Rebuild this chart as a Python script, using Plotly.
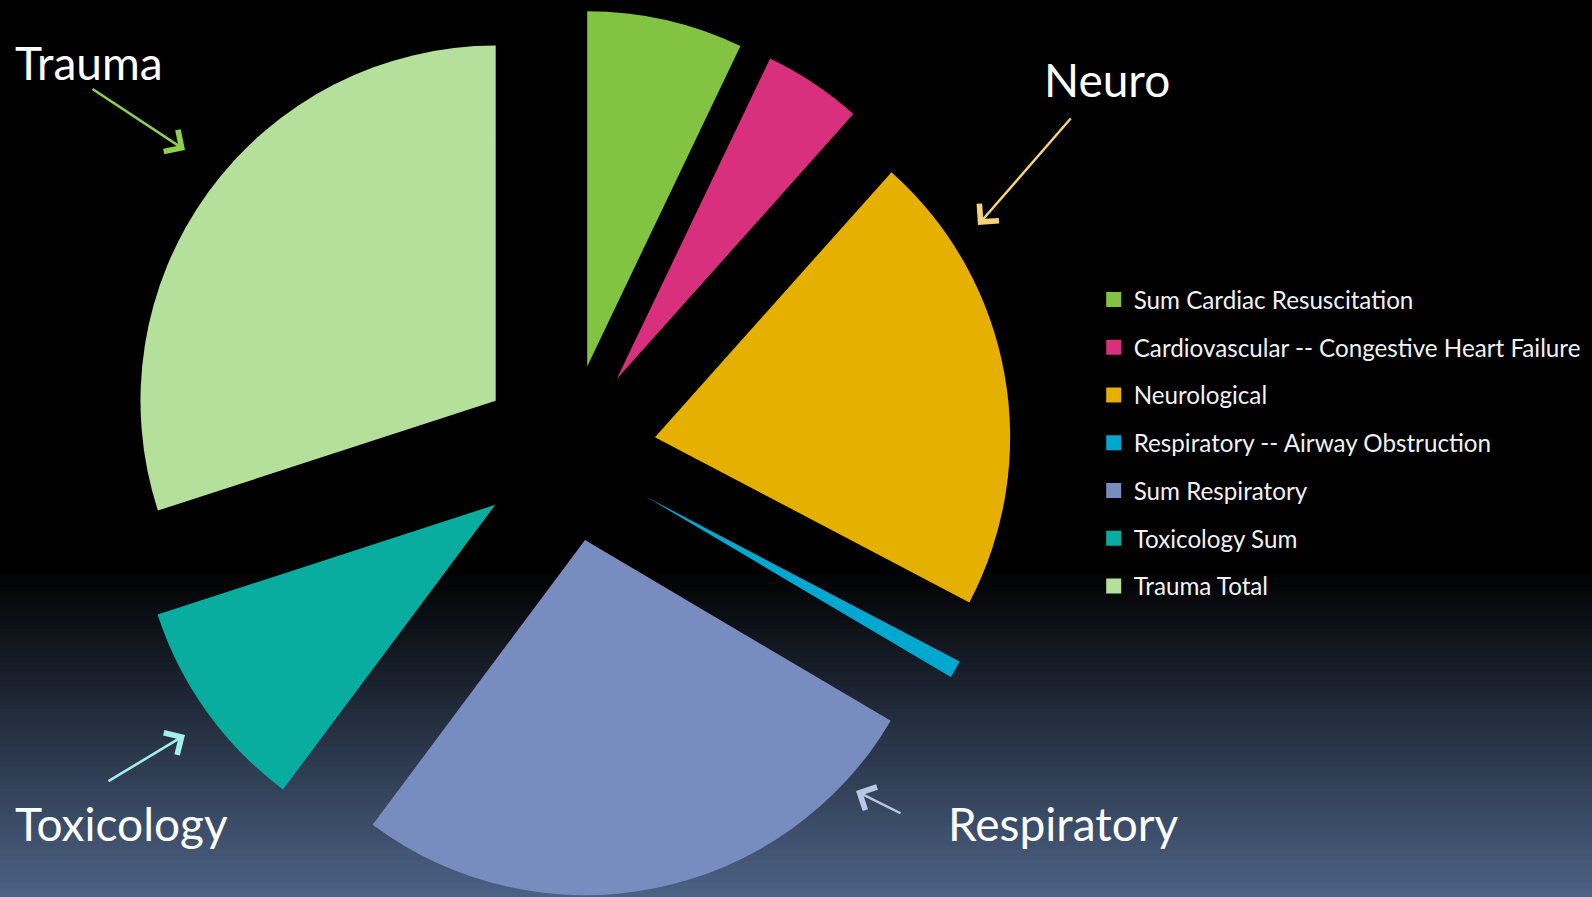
import plotly.graph_objects as go

# slice data, clockwise from 12 o'clock
labels = [
    "Sum Cardiac Resuscitation",
    "Cardiovascular -- Congestive Heart Failure",
    "Neurological",
    "Respiratory -- Airway Obstruction",
    "Sum Respiratory",
    "Toxicology Sum",
    "Trauma Total",
]
values = [71, 45, 211, 8, 267, 98, 300]
colors = ["#82c341", "#d9307d", "#e6b000", "#00a7cf", "#788cbf", "#08ad9f", "#b4e09b"]

# callout labels with arrow colours
callouts = ["Trauma", "Neuro", "Toxicology", "Respiratory"]
callout_colors = ["#8fd14f", "#f6d27a", "#a3f0ea", "#b9c8e8"]

W, H = 1592, 897
FONT = "Lato"

fig = go.Figure()

fig.add_trace(go.Pie(
    labels=labels,
    values=values,
    marker=dict(colors=colors, line=dict(width=0)),
    sort=False,
    direction="clockwise",
    rotation=0,
    pull=0.25,
    textinfo="none",
    hoverinfo="label+value+percent",
    showlegend=False,
    domain=dict(x=[0.075, 0.638], y=[0.0, 0.99]),
))

# legend entries (separate groups so the rows can be spaced out)
for lab, col in zip(labels, colors):
    fig.add_trace(go.Scatter(
        x=[None], y=[None], mode="markers", name=lab, legendgroup=lab,
        marker=dict(symbol="square", size=15, color=col),
        hoverinfo="skip",
    ))

# dark-to-slate gradient in the lower part of the page
grad_top, grad_bottom = 568, H
c0, c1 = (0, 0, 0), (76, 98, 133)
n = 70
shapes = []
for i in range(n):
    t = (i + 0.5) / n
    col = tuple(int(round(a + (b - a) * t)) for a, b in zip(c0, c1))
    ya = grad_top + (grad_bottom - grad_top) * i / n
    yb = grad_top + (grad_bottom - grad_top) * (i + 1) / n + 1
    shapes.append(dict(
        type="rect", xref="paper", yref="paper", layer="below",
        x0=0, x1=1, y0=1 - min(yb, H) / H, y1=1 - ya / H,
        fillcolor="rgb(%d,%d,%d)" % col, line=dict(width=0),
    ))


def px(x, y):
    return x / W, 1 - y / H


annotations = []
# text positions (left edge, vertical centre) in pixels
text_pos = [(13, 63), (1042, 80), (13, 823), (946, 823)]
for txt, (tx, ty) in zip(callouts, text_pos):
    xx, yy = px(tx, ty)
    annotations.append(dict(
        text=txt, x=xx, y=yy, xref="paper", yref="paper",
        xanchor="left", yanchor="middle", showarrow=False,
        font=dict(family=FONT, size=46, color="#ffffff"),
    ))

# arrows: tip point and tail offset in pixels
tips = [(185, 150), (978, 225), (185, 735), (856, 791)]
tails = [(-94, -62), (94, -108), (-78, 47), (46, 23)]
for (hx, hy), (ax, ay), col in zip(tips, tails, callout_colors):
    xx, yy = px(hx, hy)
    annotations.append(dict(
        text="", x=xx, y=yy, xref="paper", yref="paper",
        ax=ax, ay=ay, showarrow=True, arrowhead=4, arrowsize=2.0,
        arrowwidth=2.5, arrowcolor=col, standoff=0,
    ))

fig.update_layout(
    width=W, height=H,
    margin=dict(l=0, r=0, t=0, b=0),
    paper_bgcolor="#000000",
    plot_bgcolor="rgba(0,0,0,0)",
    xaxis=dict(visible=False),
    yaxis=dict(visible=False),
    shapes=shapes,
    annotations=annotations,
    legend=dict(
        x=0.687, y=0.691, xanchor="left", yanchor="top",
        font=dict(family=FONT, size=24.2, color="#f2f2f2"),
        bgcolor="rgba(0,0,0,0)", tracegroupgap=13.3,
        itemclick=False, itemdoubleclick=False,
    ),
    showlegend=True,
)

fig.write_html(
    "out.html",
    config={"displayModeBar": False},
    post_script="document.body.style.margin='0';document.body.style.background='#000';",
)
